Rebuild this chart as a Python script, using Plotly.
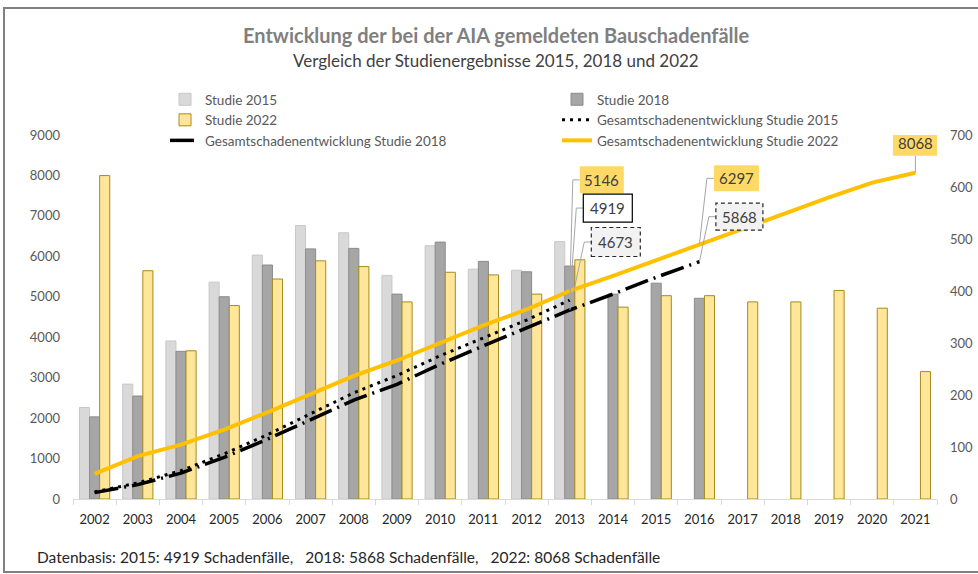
import plotly.graph_objects as go

years = [str(y) for y in range(2002, 2022)]

# yearly counts (right axis)
studie_2015 = [176, 221, 304, 417, 469, 526, 512, 430, 487, 442, 440, 495,
               None, None, None, None, None, None, None, None]
studie_2018 = [158, 198, 284, 389, 450, 481, 482, 394, 494, 457, 437, 448,
               394, 415, 386, None, None, None, None, None]
studie_2022 = [622, 439, 285, 372, 423, 458, 447, 379, 436, 431, 394, 460,
               369, 391, 391, 379, 379, 401, 367, 245]

# cumulative totals (left axis)
gesamt_2015 = [176, 397, 701, 1118, 1587, 2113, 2625, 3055, 3542, 3984, 4424, 4919,
               None, None, None, None, None, None, None, None]
gesamt_2018 = [158, 356, 640, 1029, 1479, 1960, 2442, 2836, 3330, 3787, 4224, 4673,
               5067, 5482, 5868, None, None, None, None, None]
gesamt_2022 = [622, 1061, 1346, 1718, 2141, 2599, 3046, 3425, 3861, 4292, 4686, 5146,
               5515, 5906, 6297, 6676, 7055, 7456, 7823, 8068]

left_ticks = list(range(0, 9001, 1000))
right_ticks = list(range(0, 701, 100))

FONT = "Lato"
GREY = "#595959"

fig = go.Figure()

fig.add_trace(go.Bar(x=years, y=studie_2015, name="Studie 2015", yaxis="y",
                     marker=dict(color="#D9D9D9", line=dict(color="#C8C8C8", width=1))))
fig.add_trace(go.Bar(x=years, y=studie_2018, name="Studie 2018", yaxis="y",
                     marker=dict(color="#A6A6A6", line=dict(color="#8C8C8C", width=1))))
fig.add_trace(go.Bar(x=years, y=studie_2022, name="Studie 2022", yaxis="y",
                     marker=dict(color="#FFE699", line=dict(color="#A68B1F", width=1))))

fig.add_trace(go.Scatter(x=years, y=gesamt_2015, name="Gesamtschadenentwicklung Studie 2015",
                         yaxis="y2", mode="lines",
                         line=dict(color="black", width=3, dash="3px,5px")))
fig.add_trace(go.Scatter(x=years, y=gesamt_2018, name="Gesamtschadenentwicklung Studie 2018",
                         yaxis="y2", mode="lines",
                         line=dict(color="black", width=3.5, dash="24px,6px,2px,6px")))
fig.add_trace(go.Scatter(x=years, y=gesamt_2022, name="Gesamtschadenentwicklung Studie 2022",
                         yaxis="y2", mode="lines",
                         line=dict(color="#FFC000", width=4)))

# data label callouts: (year index, series, fill, border, box offset dx/dy in px (down +), box w/h, leader type)
labels = [
    (11, gesamt_2022, "#FFD966", None,    32, -111, 44, 27, "elbow"),
    (11, gesamt_2015, "white",   "solid", 38,  -92, 49, 28, "elbow"),
    (11, gesamt_2018, "#F2F2F2", "dash",  46,  -68, 49, 29, "elbow"),
    (14, gesamt_2022, "#FFD966", None,    37,  -66, 45, 26, "elbow"),
    (14, gesamt_2018, "#F2F2F2", "dash",  40,  -45, 47, 27, "elbow"),
    (19, gesamt_2022, "#FFD966", None,     0,  -30, 45, 26, "vertical"),
]
annotations = []
shapes = []
for i, series, bg, border, dx, dy, w, h, leader in labels:
    val = series[i]
    common = dict(xref="x", yref="y2", xsizemode="pixel", ysizemode="pixel",
                  xanchor=i, yanchor=val)
    # leader line
    if leader == "elbow":
        lx = dx - w / 2
        path = f"M {lx},{-dy} L {lx - 7},{-dy} L 0,0"
    else:
        path = f"M {dx},{-dy - h / 2} L 0,0"
    shapes.append(dict(type="path", path=path, line=dict(color="#A6A6A6", width=1),
                       layer="above", **common))
    # box
    if border is None:
        line = dict(width=0)
    elif border == "solid":
        line = dict(color="black", width=1.2)
    else:
        line = dict(color="#262626", width=1.2, dash="4px,3px")
    shapes.append(dict(type="rect", x0=dx - w / 2, x1=dx + w / 2,
                       y0=-dy - h / 2, y1=-dy + h / 2, line=line, fillcolor=bg,
                       layer="above", **common))
    annotations.append(dict(
        x=i, y=val, xref="x", yref="y2", text=str(val), showarrow=False,
        xshift=dx, yshift=-dy, xanchor="center", yanchor="middle",
        font=dict(family=FONT, size=15, color="#404040")))

annotations += [
    dict(text="<b>Entwicklung der bei der AIA gemeldeten Bauschadenfälle</b>",
         xref="paper", yref="paper", x=0.49, y=(499 - 35) / 364, showarrow=False,
         font=dict(family=FONT, size=20, color="#7F7F7F"), yanchor="middle"),
    dict(text="Vergleich der Studienergebnisse 2015, 2018 und 2022",
         xref="paper", yref="paper", x=0.49, y=(499 - 60) / 364, showarrow=False,
         font=dict(family=FONT, size=17, color="#404040"), yanchor="middle"),
    dict(text="Datenbasis: 2015: 4919 Schadenfälle,   2018: 5868 Schadenfälle,   2022: 8068 Schadenfälle",
         xref="paper", yref="paper", x=(35 - 73) / 864, y=(499 - 557) / 364,
         showarrow=False, xanchor="left",
         font=dict(family=FONT, size=15.5, color="#262626"), yanchor="middle"),
]

shapes.append(dict(type="rect", xref="paper", yref="paper",
                   x0=(4 - 73) / 864, x1=(980 - 73) / 864,
                   y0=(499 - 572) / 364, y1=(499 - 8) / 364,
                   line=dict(color="#808080", width=2), fillcolor="rgba(0,0,0,0)",
                   layer="below"))

fig.update_layout(
    width=978, height=574,
    margin=dict(l=73, r=41, t=135, b=75),
    paper_bgcolor="white", plot_bgcolor="white",
    barmode="group", bargap=0.3, bargroupgap=0,
    showlegend=True,
    legend=dict(orientation="h", x=(165 - 73) / 864, xanchor="left",
                y=(499 - 84) / 364, yanchor="top",
                entrywidth=347, entrywidthmode="pixels", traceorder="normal",
                font=dict(family=FONT, size=13.5, color=GREY), bgcolor="rgba(0,0,0,0)",
                tracegroupgap=0),
    xaxis=dict(type="category", range=[-0.5, 19.5], showgrid=False, showline=True,
               linecolor="#D9D9D9", automargin=False, ticklabelstandoff=8,
               ticks="outside", tickson="boundaries", ticklen=5, tickcolor="#D9D9D9",
               tickangle=0, tickfont=dict(family=FONT, size=13, color="#262626")),
    yaxis=dict(side="right", range=[0, 700], tickvals=right_ticks, showgrid=False,
               zeroline=False, showline=False, ticklabelstandoff=12, automargin=False,
               tickfont=dict(family=FONT, size=13, color=GREY)),
    yaxis2=dict(side="left", overlaying="y", range=[0, 9000], tickvals=left_ticks,
                showgrid=False, zeroline=False, showline=False, ticklabelstandoff=12,
                automargin=False, tickfont=dict(family=FONT, size=13, color=GREY)),
    annotations=annotations,
    shapes=shapes,
)

fig.write_html("out.html", config={"displayModeBar": False},
               post_script="document.body.style.margin='0';")
